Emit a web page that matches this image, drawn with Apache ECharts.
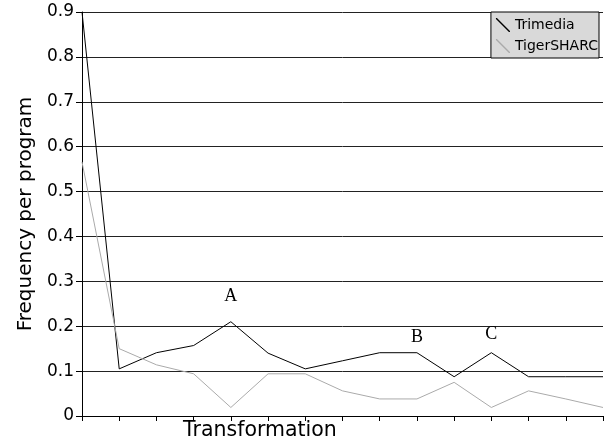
<!DOCTYPE html>
<html><head><meta charset="utf-8">
<script src="https://cdn.jsdelivr.net/npm/echarts@6/dist/echarts.min.js"></script>
<style>html,body{margin:0;padding:0;background:#fff}#c{width:608px;height:444px}</style>
</head><body><div id="c"></div>
<script>
var categories = ['1','2','3','4','5','6','7','8','9','10','11','12','13','14','15'];
var trimedia = [0.9, 0.105, 0.141, 0.157, 0.21, 0.14, 0.105, 0.123, 0.141, 0.141, 0.0875, 0.141, 0.0875, 0.0875, 0.0875];
var tigersharc = [0.566, 0.15, 0.114, 0.094, 0.019, 0.094, 0.094, 0.056, 0.038, 0.038, 0.075, 0.019, 0.056, 0.038, 0.019];
var annotations = [
  {name: 'A', coord: [4, 0.267]},
  {name: 'B', coord: [9, 0.176]},
  {name: 'C', coord: [11, 0.183]}
];
var chart = echarts.init(document.getElementById('c'));
var F = 'DejaVu Sans';
chart.setOption({
  animation: false,
  grid: {left: 82, right: 5, top: 12, bottom: 28},
  legend: {
    orient: 'vertical', right: 9, top: 12,
    backgroundColor: '#d9d9d9', borderColor: '#000', borderWidth: 1,
    padding: [6, 1, 5, 5], itemGap: 7, itemWidth: 14, itemHeight: 14,
    textStyle: {fontFamily: F, fontSize: 14, color: '#000'},
    data: [
      {name: 'Trimedia', icon: 'path://M0,0L1,0L14,13L14,14L13,14L0,1Z'},
      {name: 'TigerSHARC', icon: 'path://M0,0L1,0L14,13L14,14L13,14L0,1Z'}
    ]
  },
  xAxis: {
    type: 'category', data: categories, boundaryGap: false,
    axisLine: {lineStyle: {color: '#000', width: 1}},
    axisTick: {show: true, length: 5, inside: false, lineStyle: {color: '#000'}},
    axisLabel: {show: false},
    splitLine: {show: false}
  },
  yAxis: {
    type: 'value', min: 0, max: 0.9, interval: 0.1,
    name: 'Frequency per program', nameLocation: 'middle', nameGap: 44,
    nameTextStyle: {fontFamily: F, fontSize: 20, color: '#000'},
    axisLine: {show: true, lineStyle: {color: '#000', width: 1}},
    axisTick: {show: true, length: 6, lineStyle: {color: '#000'}},
    axisLabel: {fontFamily: F, fontSize: 17, color: '#000', margin: 8,
      formatter: function (v) { return v === 0 ? '0' : v.toFixed(1); }},
    splitLine: {show: true, lineStyle: {color: '#222', width: 1}}
  },
  graphic: [{
    type: 'text', left: 183, top: 420,
    style: {text: 'Transformation', fontFamily: F, fontSize: 20.5, fill: '#000'}
  }],
  series: [
    {
      name: 'Trimedia', type: 'line', data: trimedia, symbol: 'none',
      color: '#000', lineStyle: {color: '#000', width: 1},
      markPoint: {
        symbol: 'circle', symbolSize: 1,
        itemStyle: {color: 'rgba(0,0,0,0)'},
        label: {show: true, position: 'inside', formatter: '{b}',
          fontFamily: 'Liberation Serif', fontSize: 18, color: '#000'},
        data: annotations
      }
    },
    {
      name: 'TigerSHARC', type: 'line', data: tigersharc, symbol: 'none',
      color: '#aaa', lineStyle: {color: '#aaa', width: 1}
    }
  ]
});
</script></body></html>
